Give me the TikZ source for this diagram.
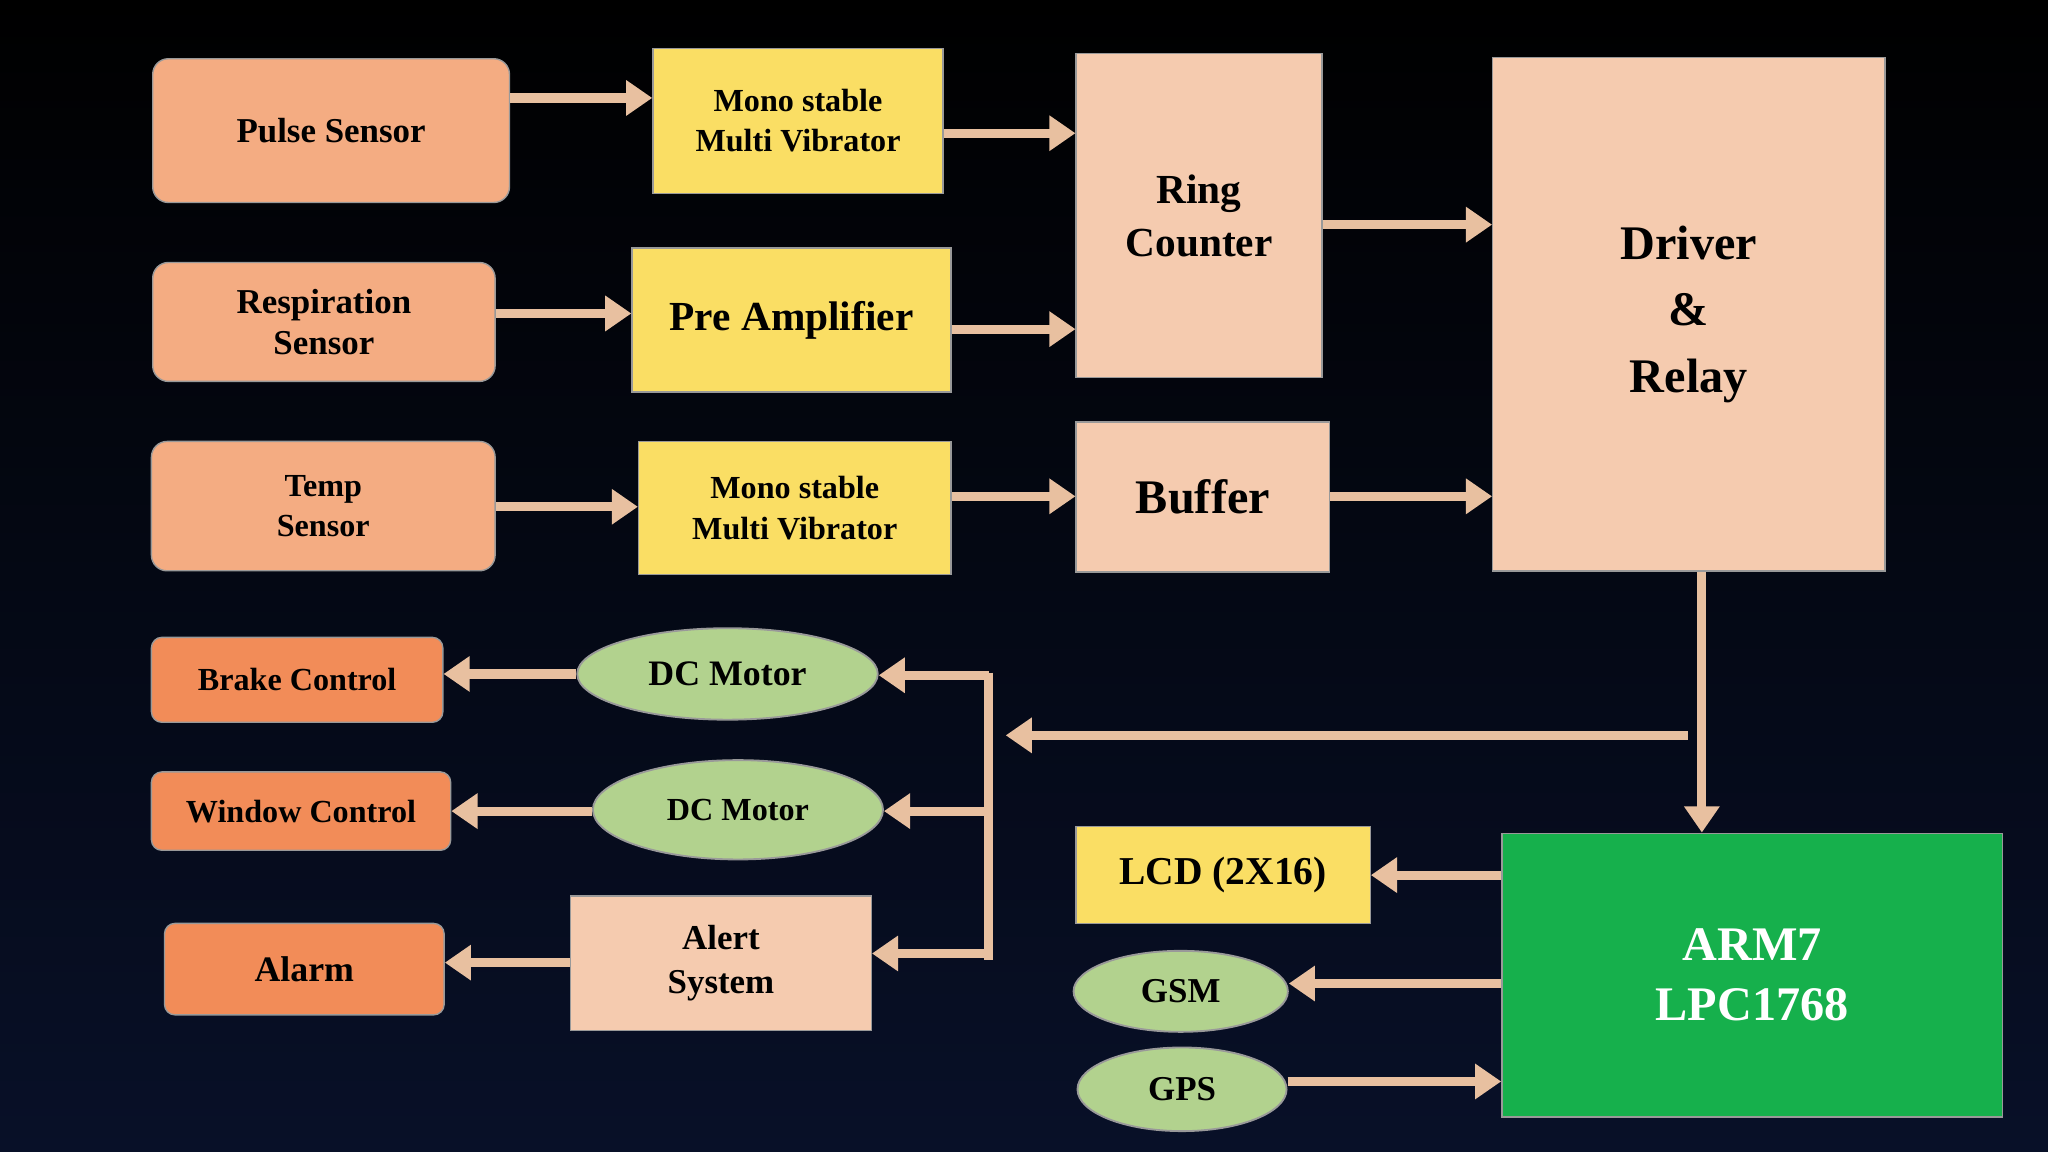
\documentclass[tikz,border=0pt]{standalone}
\usepackage{fontspec}
\setmainfont{Liberation Serif}
\usetikzlibrary{arrows.meta,shapes.geometric}
\definecolor{peach}{RGB}{244,172,130}
\definecolor{skin}{RGB}{245,203,175}
\definecolor{yel}{RGB}{250,222,100}
\definecolor{org}{RGB}{242,140,88}
\definecolor{lgreen}{RGB}{178,210,142}
\definecolor{dgreen}{RGB}{22,176,76}
\definecolor{arrc}{RGB}{232,192,160}
\begin{document}
\begin{tikzpicture}[x=0.01cm,y=-0.01cm,
  every node/.style={font=\bfseries, text=black, align=center, inner sep=1pt},
  box/.style={draw=black!40, line width=0.3pt},
  sens/.style={box, fill=peach, rounded corners=0.12cm, font=\bfseries\fontsize{7.6}{9}\selectfont},
  yb/.style={box, fill=yel},
  sk/.style={box, fill=skin},
  ob/.style={box, fill=org, rounded corners=0.08cm, font=\bfseries\fontsize{7}{8.5}\selectfont},
  el/.style={ellipse, draw=black!40, fill=lgreen, font=\bfseries\fontsize{7.4}{9}\selectfont},
  arr/.style={draw=arrc, line width=0.07cm, -{Triangle[length=0.2cm,width=0.26cm]}},
  ln/.style={draw=arrc, line width=0.07cm}]
\fill[top color=black, bottom color={rgb,255:red,8;green,16;blue,40}] (0,0) rectangle (1568,882);
\useasboundingbox (0,0) rectangle (1568,882);

\node[sens,minimum width=2.73cm,minimum height=1.1cm] (pulse) at (253.5,100) {Pulse Sensor};
\node[sens,minimum width=2.62cm,minimum height=0.91cm] (resp) at (248,246.5) {Respiration\\Sensor};
\node[sens,minimum width=2.63cm,minimum height=0.99cm,font=\bfseries\fontsize{7}{8.8}\selectfont] (temp) at (247.5,387.5) {Temp\\Sensor};

\node[yb,minimum width=2.22cm,minimum height=1.11cm,font=\bfseries\fontsize{7}{8.8}\selectfont] (mono1) at (611,92.5) {Mono stable\\Multi Vibrator};
\node[yb,minimum width=2.44cm,minimum height=1.1cm,font=\bfseries\fontsize{9}{11}\selectfont] (pre) at (606,245) {Pre Amplifier};
\node[yb,minimum width=2.39cm,minimum height=1.02cm,font=\bfseries\fontsize{7}{8.8}\selectfont] (mono2) at (608.5,389) {Mono stable\\Multi Vibrator};

\node[sk,minimum width=1.88cm,minimum height=2.48cm,font=\bfseries\fontsize{9}{11.5}\selectfont] (ring) at (918,165) {Ring\\Counter};
\node[sk,minimum width=1.94cm,minimum height=1.15cm,font=\bfseries\fontsize{10.5}{12}\selectfont] (buf) at (921,380.5) {Buffer};
\node[sk,minimum width=3.0cm,minimum height=3.93cm,font=\bfseries\fontsize{10.5}{14.5}\selectfont] (drv) at (1293,240.5) {Driver\\\&\\Relay};

\node[ob,minimum width=2.23cm,minimum height=0.65cm] (brake) at (227.5,520.5) {Brake Control};
\node[ob,minimum width=2.29cm,minimum height=0.6cm] (win) at (230.5,621) {Window Control};
\node[ob,minimum width=2.14cm,minimum height=0.7cm,font=\bfseries\fontsize{7.8}{9}\selectfont] (alarm) at (233,742) {Alarm};

\node[el,minimum width=2.3cm,minimum height=0.7cm,font=\bfseries\fontsize{7.8}{9}\selectfont] (dc1) at (557,516) {DC Motor};
\node[el,minimum width=2.22cm,minimum height=0.76cm,font=\bfseries\fontsize{7}{8.5}\selectfont] (dc2) at (565,620) {DC Motor};
\node[sk,minimum width=2.3cm,minimum height=1.03cm,font=\bfseries\fontsize{7.6}{9.5}\selectfont] (alert) at (552,737.5) {Alert\\System};

\node[yb,minimum width=2.25cm,minimum height=0.74cm,font=\bfseries\fontsize{8.6}{10}\selectfont] (lcd) at (936.5,670) {LCD (2X16)};
\node[el,minimum width=1.64cm,minimum height=0.62cm,font=\bfseries\fontsize{7.6}{9}\selectfont] (gsm) at (904,759) {GSM};
\node[el,minimum width=1.6cm,minimum height=0.64cm,font=\bfseries\fontsize{7.6}{9}\selectfont] (gps) at (905,834) {GPS};
\node[box,fill=dgreen,minimum width=3.83cm,minimum height=2.17cm,text=white,font=\bfseries\fontsize{10.5}{13}\selectfont] (arm) at (1341.5,746.5) {ARM7\\LPC1768};

\draw[arr] (pulse.east|-0,75) -- (mono1.west|-0,75);
\draw[arr] (mono1.east|-0,102) -- (ring.west|-0,102);
\draw[arr] (resp.east|-0,240) -- (pre.west|-0,240);
\draw[arr] (pre.east|-0,252) -- (ring.west|-0,252);
\draw[arr] (temp.east|-0,388) -- (mono2.west|-0,388);
\draw[arr] (mono2.east|-0,380) -- (buf.west|-0,380);
\draw[arr] (ring.east|-0,172) -- (drv.west|-0,172);
\draw[arr] (buf.east|-0,380) -- (drv.west|-0,380);
\draw[arr] (drv.south-|1303,0) -- (arm.north-|1303,0);
\coordinate (j) at (1292,563);
\coordinate (bt) at (757,515);
\coordinate (bb) at (757,735);
\draw[arr] (j) -- (770,563);
\draw[ln] (bt) -- (bb);
\draw[arr] (bt|-0,517) -- (dc1.east|-0,517);
\draw[arr] (bt|-0,621) -- (dc2.east|-0,621);
\draw[arr] (bt|-0,730) -- (alert.east|-0,730);
\draw[arr] (dc1.west|-0,516) -- (brake.east|-0,516);
\draw[arr] (dc2.west|-0,621) -- (win.east|-0,621);
\draw[arr] (alert.west|-0,737) -- (alarm.east|-0,737);
\draw[arr] (arm.west|-0,670) -- (lcd.east|-0,670);
\draw[arr] (arm.west|-0,753) -- (gsm.east|-0,753);
\draw[arr] (gps.east|-0,828) -- (arm.west|-0,828);
\end{tikzpicture}
\end{document}
